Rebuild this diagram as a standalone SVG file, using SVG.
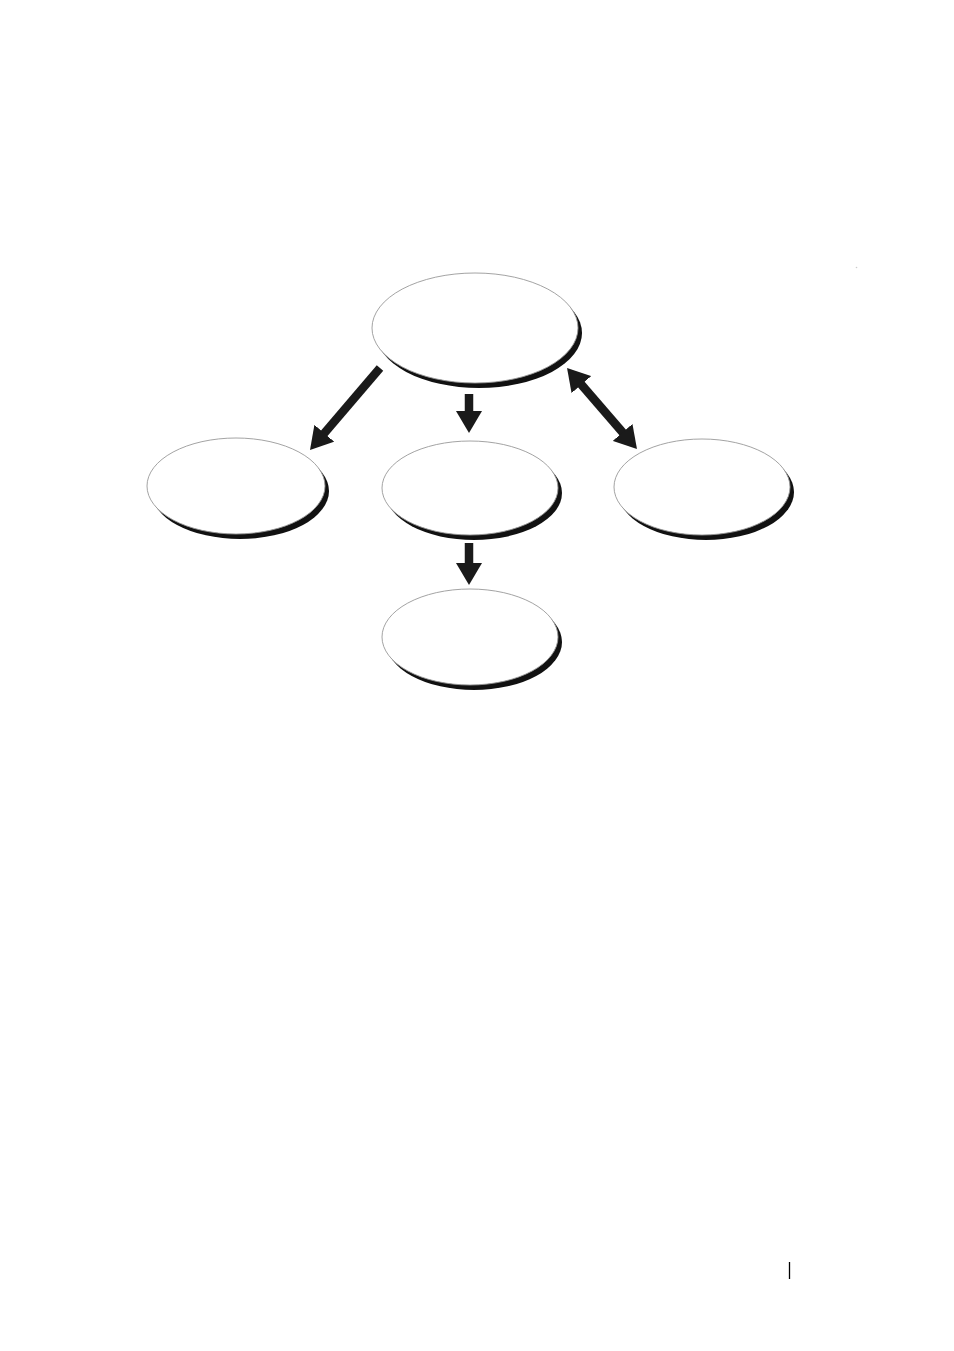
<svg xmlns="http://www.w3.org/2000/svg" width="954" height="1351" viewBox="0 0 954 1351">
  <style>
    .shadow { fill: #111; }
    .face { fill: #fff; stroke: #999; stroke-width: 0.9; }
    .conn { stroke: #1a1a1a; stroke-width: 8.5; fill: none; }
  </style>
  <defs>
    <marker id="head" markerUnits="userSpaceOnUse" viewBox="0 0 22 26" refX="2" refY="13" markerWidth="22" markerHeight="26" orient="auto-start-reverse">
      <path d="M0,0 L22,13 L0,26 z" fill="#1a1a1a"/>
    </marker>
  </defs>
  <rect width="954" height="1351" fill="#fff"/>

  <g id="node-top">
    <ellipse class="shadow" cx="479" cy="333" rx="103" ry="55"/>
    <ellipse class="face" cx="475" cy="328" rx="103" ry="55"/>
  </g>
  <g id="node-left">
    <ellipse class="shadow" cx="240" cy="491" rx="89" ry="48"/>
    <ellipse class="face" cx="236" cy="486" rx="89" ry="48"/>
  </g>
  <g id="node-middle">
    <ellipse class="shadow" cx="474" cy="493" rx="88" ry="47"/>
    <ellipse class="face" cx="470" cy="488" rx="88" ry="47"/>
  </g>
  <g id="node-right">
    <ellipse class="shadow" cx="706" cy="492" rx="88" ry="48"/>
    <ellipse class="face" cx="702" cy="487" rx="88" ry="48"/>
  </g>
  <g id="node-bottom">
    <ellipse class="shadow" cx="474" cy="642" rx="88" ry="48"/>
    <ellipse class="face" cx="470" cy="637" rx="88" ry="48"/>
  </g>

  <g id="connectors">
    <line class="conn" x1="380" y1="368" x2="323" y2="434.8" marker-end="url(#head)"/>
    <line class="conn" x1="469" y1="394" x2="469" y2="413" marker-end="url(#head)"/>
    <line class="conn" x1="469" y1="543" x2="469" y2="565" marker-end="url(#head)"/>
    <line class="conn" x1="580.1" y1="383.1" x2="623.9" y2="433.9" marker-start="url(#head)" marker-end="url(#head)"/>
  </g>

  <line x1="789.5" y1="1262" x2="789.5" y2="1279" stroke="#000" stroke-width="1.3"/>
  <circle cx="856.5" cy="267.5" r="0.8" fill="#ccc"/>
</svg>
